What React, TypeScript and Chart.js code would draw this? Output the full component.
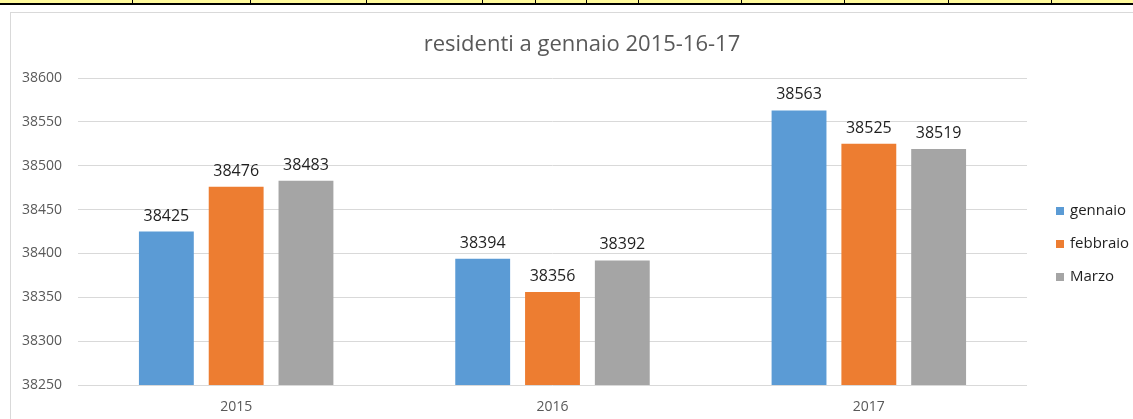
import React, { useEffect, useRef } from "react";
import { Chart, registerables } from "chart.js";

Chart.register(...registerables);

const title = "residenti a gennaio 2015-16-17";
const categories = ["2015", "2016", "2017"];
const seriesNames = ["gennaio", "febbraio", "Marzo"];
const gennaio = [38425, 38394, 38563];
const febbraio = [38476, 38356, 38525];
const marzo = [38483, 38392, 38519];
const yMin = 38250;
const yMax = 38600;
const yStep = 50;
const seriesColors = ["#5B9BD5", "#ED7D31", "#A5A5A5"];

const FONT = "'Open Sans', 'DejaVu Sans', sans-serif";
const W = 1133;
const H = 419;
const stripLines = [132, 250, 366, 482, 535, 586, 638, 741, 844, 948, 1051];

const overlayPlugin = {
  id: "overlay",
  afterDatasetsDraw(chart: any) {
    const ctx = chart.ctx;
    ctx.save();
    // data labels
    ctx.font = `16px ${FONT}`;
    ctx.fillStyle = "#1F1F1F";
    ctx.textAlign = "center";
    ctx.textBaseline = "alphabetic";
    chart.data.datasets.forEach((ds: any, i: number) => {
      const meta = chart.getDatasetMeta(i);
      meta.data.forEach((bar: any, j: number) => {
        ctx.fillText(String(ds.data[j]), bar.x, bar.y - 11);
      });
    });
    // title
    ctx.font = `22px ${FONT}`;
    ctx.fillStyle = "#595959";
    ctx.textBaseline = "middle";
    ctx.fillText(title, 582, 45);
    // legend
    ctx.font = `15px ${FONT}`;
    ctx.textAlign = "left";
    chart.data.datasets.forEach((ds: any, i: number) => {
      const cy = 211 + 33 * i;
      ctx.fillStyle = ds.backgroundColor;
      ctx.fillRect(1056, cy - 4, 8, 8);
      ctx.fillStyle = "#1F1F1F";
      ctx.fillText(ds.label, 1070, cy);
    });
    ctx.restore();
  },
};

export default function App() {
  const ref = useRef<HTMLCanvasElement | null>(null);

  useEffect(() => {
    document.body.style.margin = "0";
    const canvas = ref.current;
    if (!canvas) return;
    const chart = new Chart(canvas, {
      type: "bar",
      data: {
        labels: categories,
        datasets: [gennaio, febbraio, marzo].map((d, i) => ({
          label: seriesNames[i],
          data: d,
          backgroundColor: seriesColors[i],
          borderWidth: 0,
          categoryPercentage: 0.662,
          barPercentage: 0.786,
        })),
      },
      options: {
        responsive: false,
        animation: false,
        devicePixelRatio: 1,
        layout: { padding: { top: 78, right: 106, bottom: 0, left: 0 } },
        plugins: {
          legend: { display: false },
          title: { display: false },
          tooltip: { enabled: false },
        },
        scales: {
          x: {
            grid: { display: false, drawTicks: false },
            border: { display: false },
            ticks: {
              color: "#595959",
              font: { family: FONT, size: 14 },
              padding: 14,
            },
            afterFit: (s: any) => {
              s.height = 34;
            },
          },
          y: {
            min: yMin,
            max: yMax,
            grid: { color: "#D9D9D9", drawTicks: false, lineWidth: 1 },
            border: { display: false },
            ticks: {
              stepSize: yStep,
              color: "#595959",
              font: { family: FONT, size: 14 },
              padding: 16,
              callback: (v: any) => String(v),
            },
            afterFit: (s: any) => {
              s.width = 78;
            },
          },
        },
      },
      plugins: [overlayPlugin],
    });
    return () => chart.destroy();
  }, []);

  return (
    <div style={{ position: "fixed", left: 0, top: 0, width: W, height: H, background: "#fff", overflow: "hidden" }}>
      <div style={{ position: "absolute", left: 0, top: 0, width: W, height: 3, background: "#FFFA9C" }} />
      <div style={{ position: "absolute", left: 0, top: 3, width: W, height: 2, background: "#000" }} />
      {stripLines.map((x) => (
        <div key={x} style={{ position: "absolute", left: x, top: 0, width: 1, height: 3, background: "#000" }} />
      ))}
      <div
        style={{
          position: "absolute",
          left: 10,
          top: 12,
          width: W,
          height: H,
          borderLeft: "1px solid #D9D9D9",
          borderTop: "1px solid #D9D9D9",
        }}
      />
      <canvas ref={ref} width={W} height={H} style={{ position: "absolute", left: 0, top: 0, width: W, height: H }} />
    </div>
  );
}
